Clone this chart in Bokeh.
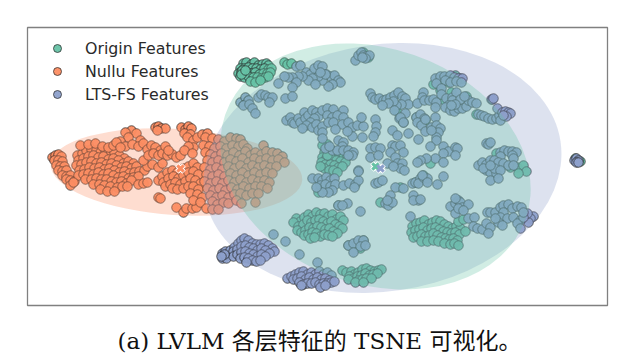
from bokeh.plotting import figure
from bokeh.embed import file_html
from bokeh.resources import INLINE
from bokeh.models import Legend, LegendItem, Label, Range1d

labels = ["Origin Features", "Nullu Features", "LTS-FS Features"]
caption = "(a) LVLM 各层特征的 TSNE 可视化。"
colors = ["#66c2a5", "#fc8d62", "#8da0cb"]

# t-SNE coordinates
green_top = [(243,63),(246,62),(251,64),(254,62),(258,65),(262,64),(266,63),(268,65),(240,68),(244,68),(248,67),(252,68),(256,68),(260,69),(264,68),(268,69),(271,68),(238,73),(241,71),(243,73),(247,72),(251,73),(255,72),(259,74),(263,73),(267,73),(270,72),(240,76),(244,77),(248,76),(253,77),(257,77),(261,78),(265,77),(268,76),(250,81),(255,82),(260,80),(242,70),(241,74),(245,70),(284,62),(287,64),(291,63)]
green_mid = [(324,152),(329,151),(333,153),(338,155),(343,157),(347,156),(322,157),(326,158),(331,158),(336,160),(340,161),(345,162),(321,162),(325,164),(330,164),(334,165),(338,167),(342,166),(324,168),(329,170),(333,170),(337,172),(320,166),(327,155)]
green_bottom = [(296,218),(300,221),(304,217),(308,214),(312,216),(316,212),(320,214),(324,213),(328,216),(332,214),(336,219),(340,216),(343,220),(293,222),(298,226),(303,224),(307,220),(311,222),(315,220),(319,219),(323,221),(327,223),(331,221),(335,224),(339,226),(342,228),(297,230),(301,232),(305,230),(309,227),(313,228),(317,226),(321,227),(325,229),(329,228),(333,231),(337,233),(304,235),(308,234),(312,232),(316,233),(320,236),(324,234),(328,235),(332,236),(310,238),(314,237)]
green_right = [(412,226),(416,223),(420,222),(424,220),(428,224),(432,222),(436,220),(440,221),(444,224),(448,226),(452,228),(456,226),(460,228),(411,232),(415,230),(419,229),(423,227),(427,230),(431,228),(435,227),(439,229),(443,231),(447,232),(451,233),(455,232),(459,234),(413,237),(417,236),(421,234),(425,236),(429,235),(433,233),(437,235),(441,237),(445,238),(449,239),(453,238),(457,240),(421,241),(427,241),(433,240),(438,241),(444,243),(450,244),(454,243),(458,245),(465,231)]
green_low = [(342,270),(346,272),(351,271),(354,274),(358,272),(362,269),(366,268),(370,270),(374,271),(378,270),(381,269),(349,276),(353,278),(357,276),(361,275),(365,273),(369,275),(373,274),(377,273),(348,279),(358,280),(362,279),(366,278),(371,278),(355,282),(363,282)]
green_scatter = [(466,96),(448,82),(450,80),(455,75),(460,78),(510,167),(517,167),(523,165),(526,171),(518,173),(430,163),(327,144),(396,110),(444,100),(451,92),(476,114),(416,117),(322,145),(423,175),(415,182),(400,187),(380,202),(458,221),(463,219),(348,245),(363,240),(360,248),(338,205),(320,183),(326,188),(318,192),(575,158),(580,161),(433,84),(443,80),(440,90),(453,102),(425,120),(496,153),(363,52),(368,57)]

orange_left = [(52,157),(55,155),(58,154),(61,156),(54,160),(58,160),(62,161),(56,165),(60,166),(64,166),(58,170),(62,171),(66,170),(62,175),(66,176),(70,175),(66,179),(70,180),(74,181),
 (77,155),(82,153),(86,150),(91,149),(96,150),(100,152),(105,150),(110,154),(114,152),(119,155),(124,158),(78,160),(83,158),(88,156),(93,155),(98,157),(103,156),(108,159),(113,158),(118,160),(123,163),(128,161),(133,163),(76,165),(81,164),(86,162),(91,161),(96,163),(101,162),(106,164),(111,163),(116,165),(121,167),(126,166),(131,168),(136,166),(79,170),(84,169),(89,167),(94,168),(99,167),(104,169),(109,168),(114,170),(119,172),(124,171),(129,173),(134,172),(139,171),(144,170),(147,166),(78,175),(83,174),(88,173),(93,174),(98,172),(103,174),(108,173),(113,175),(118,177),(123,176),(128,178),(133,177),(138,176),(85,179),(91,179),(96,178),(101,179),(106,179),(111,181),(116,182),(121,181),(126,183),(131,180),(93,184),(99,184),(104,185),(110,186),(117,187),(122,186),(127,186),(138,184),(143,183),(147,182),(70,185),(73,182),
 (80,145),(88,144),(95,143),(102,146),(108,147),(113,145),(100,189),(107,191),(114,191),(152,164),(158,167),(162,163),(143,160)]
orange_upper = [(131,130),(125,132),(136,133),(128,137),(120,141),(116,142),(140,140),(125,146),(132,144),(138,146),(143,143),(120,147),(147,149),(151,145),(155,147),(160,150),(148,155),(153,153),(158,155),(162,153),(167,155),(172,154),(176,157),(180,155),(165,146),(168,150),(155,127),(158,126),(161,128),(165,128),(157,130),(181,127),(185,129),(188,126),(191,128),(184,133),(190,134),(187,137),(193,140),(193,147),(188,146),(184,150),(197,137),(202,134),(207,133),(192,153)]
orange_mid = [(158,180),(162,176),(167,172),(172,170),(177,172),(183,168),(188,166),(193,163),(197,167),(163,182),(168,178),(173,176),(178,178),(183,175),(188,172),(193,171),(198,174),(165,186),(170,184),(175,182),(180,184),(185,181),(190,178),(195,180),(200,183),(172,188),(177,189),(183,188),(188,186),(193,186),(198,189),(158,197),(160,198),(176,207),(183,212),(186,208),(192,208),(196,207),(190,193),(197,194),(202,197),(193,200),(200,202)]
orange_overlap = [(205,137),(212,138),(218,139),(224,141),(230,137),(236,138),(240,139),(203,145),(209,146),(214,148),(220,146),(226,148),(232,145),(238,146),(243,144),(247,148),(263,145),(205,152),(210,154),(215,156),(221,153),(227,155),(233,152),(239,155),(245,151),(250,155),(255,152),(261,154),(266,151),(272,152),(277,153),(282,156),(207,160),(212,162),(218,160),(224,162),(230,159),(236,161),(242,158),(248,162),(254,158),(260,160),(266,158),(272,160),(278,159),(284,162),(204,167),(210,169),(216,167),(222,169),(228,166),(234,168),(240,165),(246,168),(252,165),(258,167),(264,165),(270,167),(276,166),(206,174),(212,176),(218,174),(224,176),(230,173),(236,175),(242,172),(248,175),(254,172),(260,174),(266,172),(272,173),(204,181),(210,183),(216,181),(222,183),(228,180),(234,182),(240,179),(246,182),(252,179),(258,181),(264,180),(269,182),(207,188),(213,190),(219,188),(225,190),(231,187),(237,189),(243,186),(249,188),(255,186),(261,186),(267,188),(210,195),(216,197),(222,195),(228,197),(234,194),(240,193),(246,195),(252,193),(258,193),(212,201),(217,204),(223,202),(228,203),(236,200),(241,203),(255,202),(206,208),(212,209),(218,209)]

blue_top = [(296,66),(300,65),(306,72),(310,74),(314,68),(318,65),(322,66),(326,74),(330,76),(334,75),(338,80),(340,82),(332,84),(328,86),(322,80),(318,76),(312,78),(308,80),(302,76),(298,76),(292,77),(288,77),(284,76),(296,82),(315,84),(325,74),(320,72),(278,83),(292,87),(285,98),(292,96)]
blue_nw = [(240,102),(245,97),(248,100),(243,105),(249,104),(252,108),(255,113),(258,97),(261,94),(265,95),(268,97),(272,97),(269,102)]
blue_c1 = [(286,120),(290,117),(292,122),(294,123),(298,118),(300,122),(304,112),(305,118),(308,115),(312,110),(316,112),(318,116),(314,118),(310,122),(306,125),(302,128),(312,127),(316,124),(318,130),(322,126),(322,110),(327,108),(333,109),(343,110),(327,115),(332,117),(337,115),(343,117),(328,122),(333,122),(342,124),(348,122),(352,127),(357,125),(363,126),(361,117),(375,119),(376,126),(375,132),(373,136),(362,137),(352,136),(347,131),(335,129),(322,132),(322,138),(338,140),(343,142),(342,146),(332,150),(337,150),(343,150),(348,150),(353,152),(352,155),(348,155),(325,148),(329,146)]
blue_c2 = [(370,93),(372,97),(375,99),(379,98),(383,100),(386,99),(390,97),(394,95),(398,92),(402,96),(405,98),(408,104),(401,104),(396,105),(393,101),(388,103),(382,105),(394,110),(405,113),(399,118),(403,122),(423,92),(422,97),(417,103),(424,100),(429,100),(433,99),(436,102),(435,107),(435,117),(416,117),(420,114),(424,118),(417,122),(421,125),(425,119),(425,131),(431,127),(436,125),(440,128),(438,132),(436,137),(431,130),(436,140),(418,139)]
blue_c3 = [(435,78),(440,76),(444,76),(450,75),(454,77),(458,78),(462,78),(436,83),(445,80),(450,82),(456,81),(461,82),(441,88),(441,94),(446,98),(452,97),(456,92),(452,100),(448,105),(445,107),(450,110),(454,111),(458,108),(462,108),(466,106),(468,100),(472,102),(476,103),(460,99),(464,96),(455,104),(451,105),(478,114),(481,115),(484,116),(488,118),(492,119),(496,118),(499,115),(500,120),(355,60),(358,55),(361,52),(363,55),(366,56),(369,55),(365,58),(362,57)]
blue_dark = [(491,99),(492,99),(493,98),(497,108),(502,112),(505,111),(508,112),(510,113),(506,116),(503,115),(574,160),(576,158),(578,160),(576,162),(578,162),(533,216),(530,218),(528,222),(527,213)]
blue_e = [(500,152),(504,150),(508,151),(512,151),(516,152),(512,155),(500,156),(513,158),(478,165),(482,162),(486,164),(490,160),(494,160),(498,162),(503,163),(508,165),(513,165),(486,170),(490,172),(496,173),(483,168),(494,168),(500,170),(490,165),(490,180),(498,178),(486,143),(488,144),(490,142)]
blue_m1 = [(400,117),(403,122),(392,130),(397,135),(408,133),(430,146),(443,146),(448,151),(455,147),(457,148),(455,155),(443,153),(435,158),(426,158),(420,160),(417,162),(443,162),(370,148),(375,147),(380,148),(370,157),(378,155),(392,145),(395,146),(400,145),(403,152),(390,152),(395,157),(397,163),(402,163),(400,168),(387,163),(358,170),(393,166),(404,170)]
blue_m2 = [(312,178),(318,178),(322,180),(326,177),(330,180),(334,178),(320,185),(325,184),(330,186),(335,184),(332,190),(328,192),(322,192),(316,187),(343,185),(349,183),(355,184),(358,180),(354,187),(358,171),(375,183),(378,182),(382,180),(395,187),(403,188),(412,183),(415,182),(420,178),(418,183),(423,177),(427,178),(422,175),(427,182),(437,184),(443,176),(390,195),(413,195),(418,200),(413,200),(420,199),(385,203),(388,205),(392,202),(387,200),(360,211),(338,205),(347,203),(342,205),(410,216)]
blue_se = [(450,206),(455,203),(458,200),(460,202),(455,198),(462,207),(468,204),(455,213),(458,208),(463,210),(468,218),(474,217),(473,226),(477,228),(482,229),(486,223),(490,227),(488,233),(487,212),(490,212),(495,212),(500,207),(503,205),(508,204),(512,208),(517,206),(521,207),(503,212),(500,217),(507,218),(498,222),(502,225),(495,218),(513,217),(520,220),(517,223),(520,228),(523,217),(523,212),(348,245),(353,243),(358,240),(363,240),(360,246),(353,252),(365,245),(273,234),(285,241),(299,254),(317,262)]
blue_sw = [(222,253),(225,251),(228,255),(222,258),(226,258),(230,250),(234,247),(238,243),(241,240),(244,238),(248,240),(252,243),(256,244),(260,244),(264,243),(268,245),(272,248),(274,251),(233,251),(237,249),(241,246),(245,245),(249,247),(253,248),(257,250),(261,248),(265,250),(269,253),(233,256),(237,254),(241,252),(245,251),(249,253),(253,254),(257,256),(261,254),(265,256),(240,258),(244,257),(248,258),(252,260),(256,261),(260,260),(246,262),(224,254),(221,256)]
blue_s = [(287,278),(291,276),(295,274),(299,272),(303,271),(307,274),(311,272),(315,274),(319,271),(323,274),(327,272),(331,275),(293,279),(297,278),(301,276),(305,279),(309,277),(313,279),(317,277),(321,279),(325,278),(329,280),(299,282),(303,284),(307,283),(311,283),(315,282),(319,284),(323,283),(327,283),(331,282),(334,281),(301,285),(320,287),(325,285)]

all_green = green_top + green_mid + green_bottom + green_right + green_low + green_scatter
all_orange = orange_left + orange_upper + orange_mid + orange_overlap
all_blue = blue_top + blue_nw + blue_c1 + blue_c2 + blue_c3 + blue_dark + blue_e + blue_m1 + blue_m2 + blue_se + blue_sw + blue_s

# (centre x, centre y, axis length 1, axis length 2, tilt in degrees)
green_ellipse = (375, 166, 318, 236, -19)
orange_ellipse = (176, 171.5, 252, 86, -3.6)
blue_ellipse = (382, 167.5, 360, 247, 8.5)
centres_x = [375, 180, 380]
centres_y = [166, 168, 168]
box_left, box_right, box_top, box_bottom = 27, 607, 27, 305

p = figure(width=624, height=354, output_backend="svg", toolbar_location=None,
           x_range=Range1d(0, 624), y_range=Range1d(354, 0),
           min_border=0, background_fill_color="white", border_fill_color="white")
p.axis.visible = False
p.grid.visible = False
p.outline_line_color = None

def points(pts, color):
    return p.scatter([a for a, _ in pts], [b for _, b in pts], size=9.5, fill_color=color, fill_alpha=0.95,
                     line_color="#222222", line_alpha=0.7, line_width=1)

def oval(ell, color):
    p.ellipse([ell[0]], [ell[1]], width=[ell[2]], height=[ell[3]], angle=[ell[4]], angle_units="deg",
              fill_color=color, fill_alpha=0.3, line_color=None)

p.quad(left=[box_left], right=[box_right], top=[box_top], bottom=[box_bottom], fill_color=None,
       line_color="#808080", line_width=1.3)
r1 = points(all_green, colors[0])
r2 = points(all_orange, colors[1])
r3 = points(all_blue, colors[2])
oval(orange_ellipse, colors[1])
oval(blue_ellipse, colors[2])
oval(green_ellipse, colors[0])

p.scatter(centres_x, centres_y, marker="x", size=10, line_color="white", line_width=5)
p.scatter(centres_x, centres_y, marker="x", size=9, line_color=[colors[0], colors[1], colors[2]], line_width=3)

legend = Legend(items=[LegendItem(label=l, renderers=[r]) for l, r in zip(labels, [r1, r2, r3])],
                location=(47, 250), orientation="vertical", border_line_alpha=0, background_fill_alpha=0,
                padding=0, margin=0, spacing=3, glyph_width=20, glyph_height=20, label_standoff=18,
                label_text_font="DejaVu Sans", label_text_font_size="15.8px", label_text_color="#2a2a2a",
                label_height=20)
p.add_layout(legend)

cap = Label(x=319, y=340, text=caption, text_align="center", text_baseline="middle",
            text_font="DejaVu Serif, Noto Sans CJK SC", text_font_size="23px", text_color="#111111")
p.add_layout(cap)

open("out.html", "w").write(file_html(p, INLINE))
